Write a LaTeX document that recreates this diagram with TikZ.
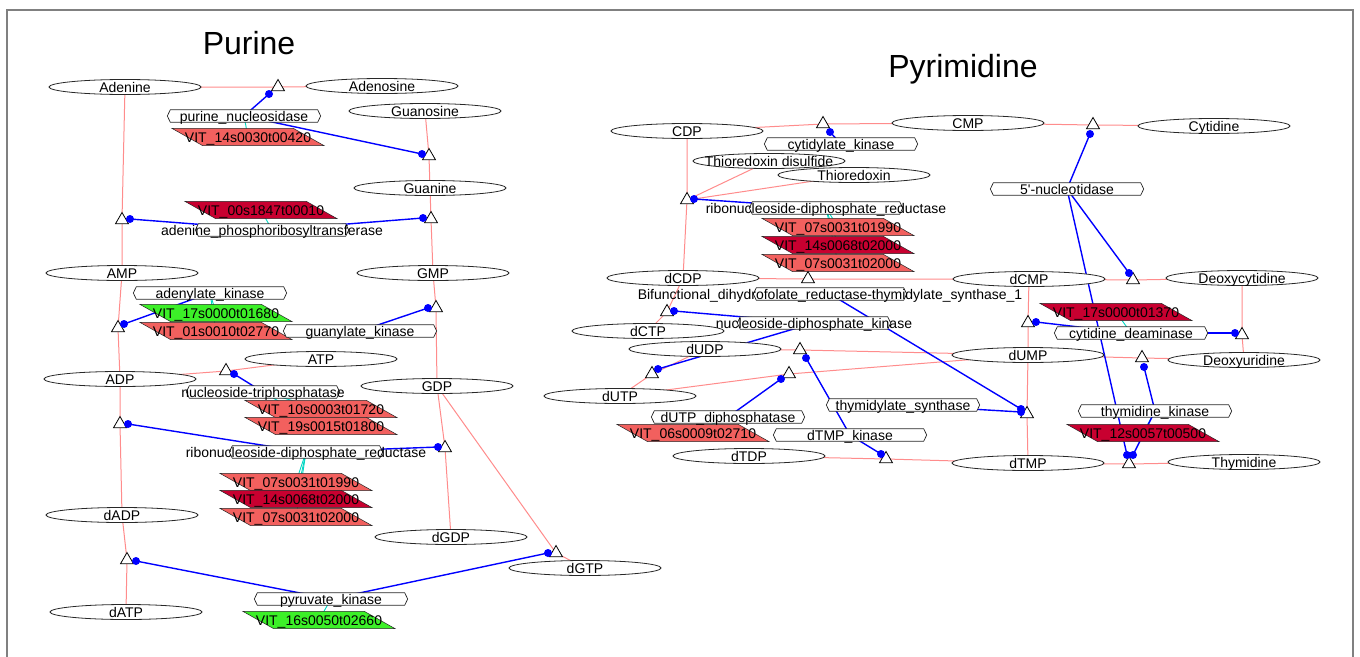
\documentclass[tikz,border=0pt]{standalone}
\usepackage{fontspec}
\setmainfont{Liberation Sans}[Ligatures=TeXOff]
\usetikzlibrary{shapes.geometric,backgrounds}
\definecolor{salm}{RGB}{242,96,94}
\definecolor{crim}{RGB}{200,0,48}
\definecolor{grn}{RGB}{60,240,40}
\definecolor{redl}{RGB}{255,140,140}
\definecolor{bluel}{RGB}{0,0,255}
\definecolor{cyanl}{RGB}{0,215,195}
\definecolor{framec}{RGB}{128,128,128}
\definecolor{outl}{RGB}{40,40,40}
\newcommand{\lblfont}{\fontsize{14}{16}\selectfont}
\tikzset{
  met/.style={ellipse, draw=outl, fill=white, line width=0.8pt, minimum width=152pt, minimum height=15pt, inner sep=0pt, font=\lblfont, text height=10pt, text depth=0pt},
  enzbox/.style={rectangle, minimum width=153pt, minimum height=12pt, inner sep=0pt},
  enzline/.style={draw=outl, fill=white, line width=0.7pt},
  genebox/.style={rectangle, minimum width=152pt, minimum height=17pt, inner sep=0pt},
  geneline/.style={draw=outl, line width=0.5pt},
  lbltext/.style={inner sep=0pt, font=\lblfont, text height=10pt, text depth=0pt},
  rxn/.style={regular polygon, regular polygon sides=3, draw=black, fill=white, line width=0.8pt, minimum size=15pt, inner sep=0pt},
  bdot/.style={circle, fill=bluel, minimum size=8pt, inner sep=0pt},
  rl/.style={draw=redl, line width=1pt},
  bl/.style={draw=bluel, line width=1.4pt},
  cl/.style={draw=cyanl, line width=0.9pt},
  framel/.style={draw=framec, line width=1.5pt},
  ttl/.style={font=\fontsize{32}{36}\selectfont, inner sep=0pt, anchor=base}
}
\newcommand{\met}[4]{\node[met] (#1) at (#2,#3) {\makebox[0pt]{#4}};}
\newcommand{\enz}[4]{%
  \path (#2,#3) node[enzbox] (#1) {};
  \path[enzline] (#1.west) -- ([xshift=3pt]#1.north west) -- ([xshift=-3pt]#1.north east) -- (#1.east) -- ([xshift=-3pt]#1.south east) -- ([xshift=3pt]#1.south west) -- cycle;
  \node[lbltext] (#1t) at (#1.center) {#4};}
\newcommand{\gene}[5]{%
  \path (#2,#3) node[genebox] (#1) {};
  \path[geneline, fill=#4] (#1.north west) -- ([xshift=-31pt]#1.north east) -- (#1.south east) -- ([xshift=31pt]#1.south west) -- cycle;
  \node[lbltext] (#1t) at (#1.center) {#5};}
\newcommand{\rxn}[3]{\node[rxn] (#1) at (#2,#3) {};}
\newcommand{\dotn}[3]{\node[bdot] (#1) at (#2,#3) {};}
\begin{document}
\begin{tikzpicture}[x=1pt,y=-1pt]
\useasboundingbox (0,0) rectangle (1360,656);
% titles
\node[ttl] (tPur) at (249,54) {Purine};
\node[ttl] (tPyr) at (963,77) {Pyrimidine};
% metabolites
\met{Adenine}{125}{87}{Adenine}
\met{Adenosine}{382}{86}{Adenosine}
\met{Guanosine}{425}{111}{Guanosine}
\met{Guanine}{430}{188}{Guanine}
\met{AMP}{122}{273}{AMP}
\met{GMP}{433}{273}{GMP}
\met{ATP}{321}{359}{ATP}
\met{ADP}{120}{379}{ADP}
\met{GDP}{437}{386}{GDP}
\met{dADP}{122}{515}{dADP}
\met{dGDP}{451}{537}{dGDP}
\met{dGTP}{585}{568}{dGTP}
\met{dATP}{126}{612}{dATP}
\met{CDP}{687}{131}{CDP}
\met{CMP}{968}{123}{CMP}
\met{Cytidine}{1214}{126}{Cytidine}
\met{TrxSS}{769}{161}{Thioredoxin disulfide}
\met{Trx}{854}{175}{Thioredoxin}
\met{dCDP}{683}{278}{dCDP}
\met{dCMP}{1029}{279}{dCMP}
\met{dCyd}{1242}{278}{Deoxycytidine}
\met{dCTP}{648}{331}{dCTP}
\met{dUDP}{705}{349}{dUDP}
\met{dUMP}{1028}{355}{dUMP}
\met{dUrd}{1244}{360}{Deoxyuridine}
\met{dUTP}{620}{396}{dUTP}
\met{dTDP}{749}{456}{dTDP}
\met{dTMP}{1028}{463}{dTMP}
\met{Thd}{1244}{462}{Thymidine}
% genes
\gene{g1}{248}{137}{salm}{VIT\_14s0030t00420}
\gene{g2}{261}{210}{crim}{VIT\_00s1847t00010}
\gene{g3}{216}{313}{grn}{VIT\_17s0000t01680}
\gene{g4}{216}{331}{salm}{VIT\_01s0010t02770}
\gene{g5}{321}{409}{salm}{VIT\_10s0003t01720}
\gene{g6}{321}{426}{salm}{VIT\_19s0015t01800}
\gene{g7}{296}{482}{salm}{VIT\_07s0031t01990}
\gene{g8}{296}{499}{crim}{VIT\_14s0068t02000}
\gene{g9}{296}{517}{salm}{VIT\_07s0031t02000}
\gene{g10}{319}{620}{grn}{VIT\_16s0050t02660}
\gene{g11}{838}{227}{salm}{VIT\_07s0031t01990}
\gene{g12}{838}{245}{crim}{VIT\_14s0068t02000}
\gene{g13}{838}{263}{salm}{VIT\_07s0031t02000}
\gene{g14}{1116}{312}{crim}{VIT\_17s0000t01370}
\gene{g15}{1143}{433}{crim}{VIT\_12s0057t00500}
\gene{g16}{693}{433}{salm}{VIT\_06s0009t02710}
% enzymes
\enz{PNS}{244}{116}{purine\_nucleosidase}
\enz{APRT}{272}{230}{adenine\_phosphoribosyltransferase}
\enz{ADK}{210}{293}{adenylate\_kinase}
\enz{GUK}{360}{331}{guanylate\_kinase}
\enz{NTPase}{263}{392}{nucleoside-triphosphatase}
\enz{RNRa}{306}{452}{ribonucleoside-diphosphate\_reductase}
\enz{PK}{331}{599}{pyruvate\_kinase}
\enz{CMPK}{841}{144}{cytidylate\_kinase}
\enz{RNRb}{826}{208}{ribonucleoside-diphosphate\_reductase}
\enz{NT5}{1067}{189}{5'-nucleotidase}
\enz{DHFR}{830}{294}{Bifunctional\_dihydrofolate\_reductase-thymidylate\_synthase\_1}
\enz{NDK}{814}{323}{nucleoside-diphosphate\_kinase}
\enz{CDA}{1131}{333}{cytidine\_deaminase}
\enz{TK}{1155}{411}{thymidine\_kinase}
\enz{TS}{903}{405}{thymidylate\_synthase}
\enz{DUT}{728}{417}{dUTP\_diphosphatase}
\enz{TMPK}{850}{435}{dTMP\_kinase}
% reactions
\rxn{tA}{278}{87}
\rxn{tB}{429}{156}
\rxn{tC}{122}{220}
\rxn{tD}{431}{219}
\rxn{tE}{118}{328}
\rxn{tF}{436}{308}
\rxn{tG}{226}{371}
\rxn{tH}{120}{424}
\rxn{tI}{445}{448}
\rxn{tJ}{127}{560}
\rxn{tK}{556}{553}
\rxn{tL}{823}{124}
\rxn{tM}{1093}{125}
\rxn{tN}{687}{200}
\rxn{tO}{808}{279}
\rxn{tP}{1133}{280}
\rxn{tQ}{667}{312}
\rxn{tR}{1028}{323}
\rxn{tS}{1242}{335}
\rxn{tT}{800}{350}
\rxn{tU}{1142}{358}
\rxn{tV}{652}{374}
\rxn{tW}{789}{374}
\rxn{tX}{1027}{414}
\rxn{tY}{886}{459}
\rxn{tZ}{1129}{464}
% dots
\dotn{dA}{269}{94}
\dotn{dB}{422}{154}
\dotn{dC}{130}{219}
\dotn{dD}{423}{218}
\dotn{dE}{124}{324}
\dotn{dF}{428}{308}
\dotn{dG}{234}{374}
\dotn{dH}{128}{424}
\dotn{dI}{438}{447}
\dotn{dJ}{136}{561}
\dotn{dK}{548}{553}
\dotn{dL}{830}{132}
\dotn{dM}{1090}{134}
\dotn{dN}{694}{199}
\dotn{dP}{1129}{273}
\dotn{dQ}{674}{311}
\dotn{dR}{1036}{322}
\dotn{dS}{1235}{333}
\dotn{dT}{806}{358}
\dotn{dU}{1144}{367}
\dotn{dV}{658}{369}
\dotn{dW}{781}{379}
\dotn{dXa}{1021}{412}
\dotn{dXb}{1021}{409}
\dotn{dY}{881}{454}
\dotn{dZa}{1127}{455}
\dotn{dZb}{1133}{455}
\begin{pgfonlayer}{background}
\fill[white] (0,0) rectangle (1360,656);
\draw[framel] (7,660) -- (7,10) -- (1353,10) -- (1353,660);
% red reaction lines
\draw[rl] (Adenine.center) -- (tA.center) -- (Adenosine.center);
\draw[rl] (Guanosine.center) -- (tB.center) -- (Guanine.center);
\draw[rl] (Adenine.center) -- (tC.center) -- (AMP.center);
\draw[rl] (Guanine.center) -- (tD.center) -- (GMP.center);
\draw[rl] (AMP.center) -- (tE.center) -- (ADP.center);
\draw[rl] (GMP.center) -- (tF.center) -- (GDP.center);
\draw[rl] (ADP.center) -- (tG.center) -- (ATP.center);
\draw[rl] (ADP.center) -- (tH.center) -- (dADP.center);
\draw[rl] (GDP.center) -- (tI.center) -- (dGDP.center);
\draw[rl] (dADP.center) -- (tJ.center) -- (dATP.center);
\draw[rl] (GDP.center) -- (tK.center) -- (dGTP.center);
\draw[rl] (CDP.center) -- (tL.center) -- (CMP.center);
\draw[rl] (CMP.center) -- (tM.center) -- (Cytidine.center);
\draw[rl] (CDP.center) -- (tN.center) -- (dCDP.center);
\draw[rl] (TrxSS.center) -- (tN.center);
\draw[rl] (Trx.center) -- (tN.center);
\draw[rl] (dCDP.center) -- (tO.center) -- (dCMP.center);
\draw[rl] (dCMP.center) -- (tP.center) -- (dCyd.center);
\draw[rl] (dCDP.center) -- (tQ.center) -- (dCTP.center);
\draw[rl] (dCMP.center) -- (tR.center) -- (dUMP.center);
\draw[rl] (dCyd.center) -- (tS.center) -- (dUrd.center);
\draw[rl] (dUDP.center) -- (tT.center) -- (dUMP.center);
\draw[rl] (dUMP.center) -- (tU.center) -- (dUrd.center);
\draw[rl] (dUDP.center) -- (tV.center) -- (dUTP.center);
\draw[rl] (dUTP.center) -- (tW.center) -- (dUMP.center);
\draw[rl] (dUMP.center) -- (tX.center) -- (dTMP.center);
\draw[rl] (dTDP.center) -- (tY.center) -- (dTMP.center);
\draw[rl] (dTMP.center) -- (tZ.center) -- (Thd.center);
% cyan gene links
\draw[cl] (PNS.center) -- (g1.center);
\draw[cl] (APRT.center) -- (g2.center);
\draw[cl] (ADK.center) -- (g3.center);
\draw[cl] (ADK.center) -- (g4.center);
\draw[cl] (NTPase.center) -- (g5.center);
\draw[cl] (NTPase.center) -- (g6.center);
\draw[cl] (RNRa.center) -- (g7.center);
\draw[cl] (RNRa.center) -- (g8.center);
\draw[cl] (RNRa.center) -- (g9.center);
\draw[cl] (PK.center) -- (g10.center);
\draw[cl] (RNRb.center) -- (g11.center);
\draw[cl] (RNRb.center) -- (g12.center);
\draw[cl] (RNRb.center) -- (g13.center);
\draw[cl] (CDA.center) -- (g14.center);
\draw[cl] (TK.center) -- (g15.center);
\draw[cl] (DUT.center) -- (g16.center);
% blue enzyme links
\draw[bl] (PNS.center) -- (dA.center);
\draw[bl] (PNS.center) -- (dB.center);
\draw[bl] (APRT.center) -- (dC.center);
\draw[bl] (APRT.center) -- (dD.center);
\draw[bl] (ADK.center) -- (dE.center);
\draw[bl] (GUK.center) -- (dF.center);
\draw[bl] (NTPase.center) -- (dG.center);
\draw[bl] (RNRa.center) -- (dH.center);
\draw[bl] (RNRa.center) -- (dI.center);
\draw[bl] (PK.center) -- (dJ.center);
\draw[bl] (PK.center) -- (dK.center);
\draw[bl] (CMPK.center) -- (dL.center);
\draw[bl] (NT5.center) -- (dM.center);
\draw[bl] (NT5.center) -- (dP.center);
\draw[bl] (NT5.center) -- (dZa.center);
\draw[bl] (RNRb.center) -- (dN.center);
\draw[bl] (NDK.center) -- (dQ.center);
\draw[bl] (NDK.center) -- (dV.center);
\draw[bl] (CDA.center) -- (dR.center);
\draw[bl] (CDA.center) -- (dS.center);
\draw[bl] (TMPK.center) -- (dT.center);
\draw[bl] (TMPK.center) -- (dY.center);
\draw[bl] (TK.center) -- (dU.center);
\draw[bl] (TK.center) -- (dZb.center);
\draw[bl] (DUT.center) -- (dW.center);
\draw[bl] (TS.center) -- (dXa.center);
\draw[bl] (DHFR.center) -- (dXb.center);
\end{pgfonlayer}
\end{tikzpicture}
\end{document}
